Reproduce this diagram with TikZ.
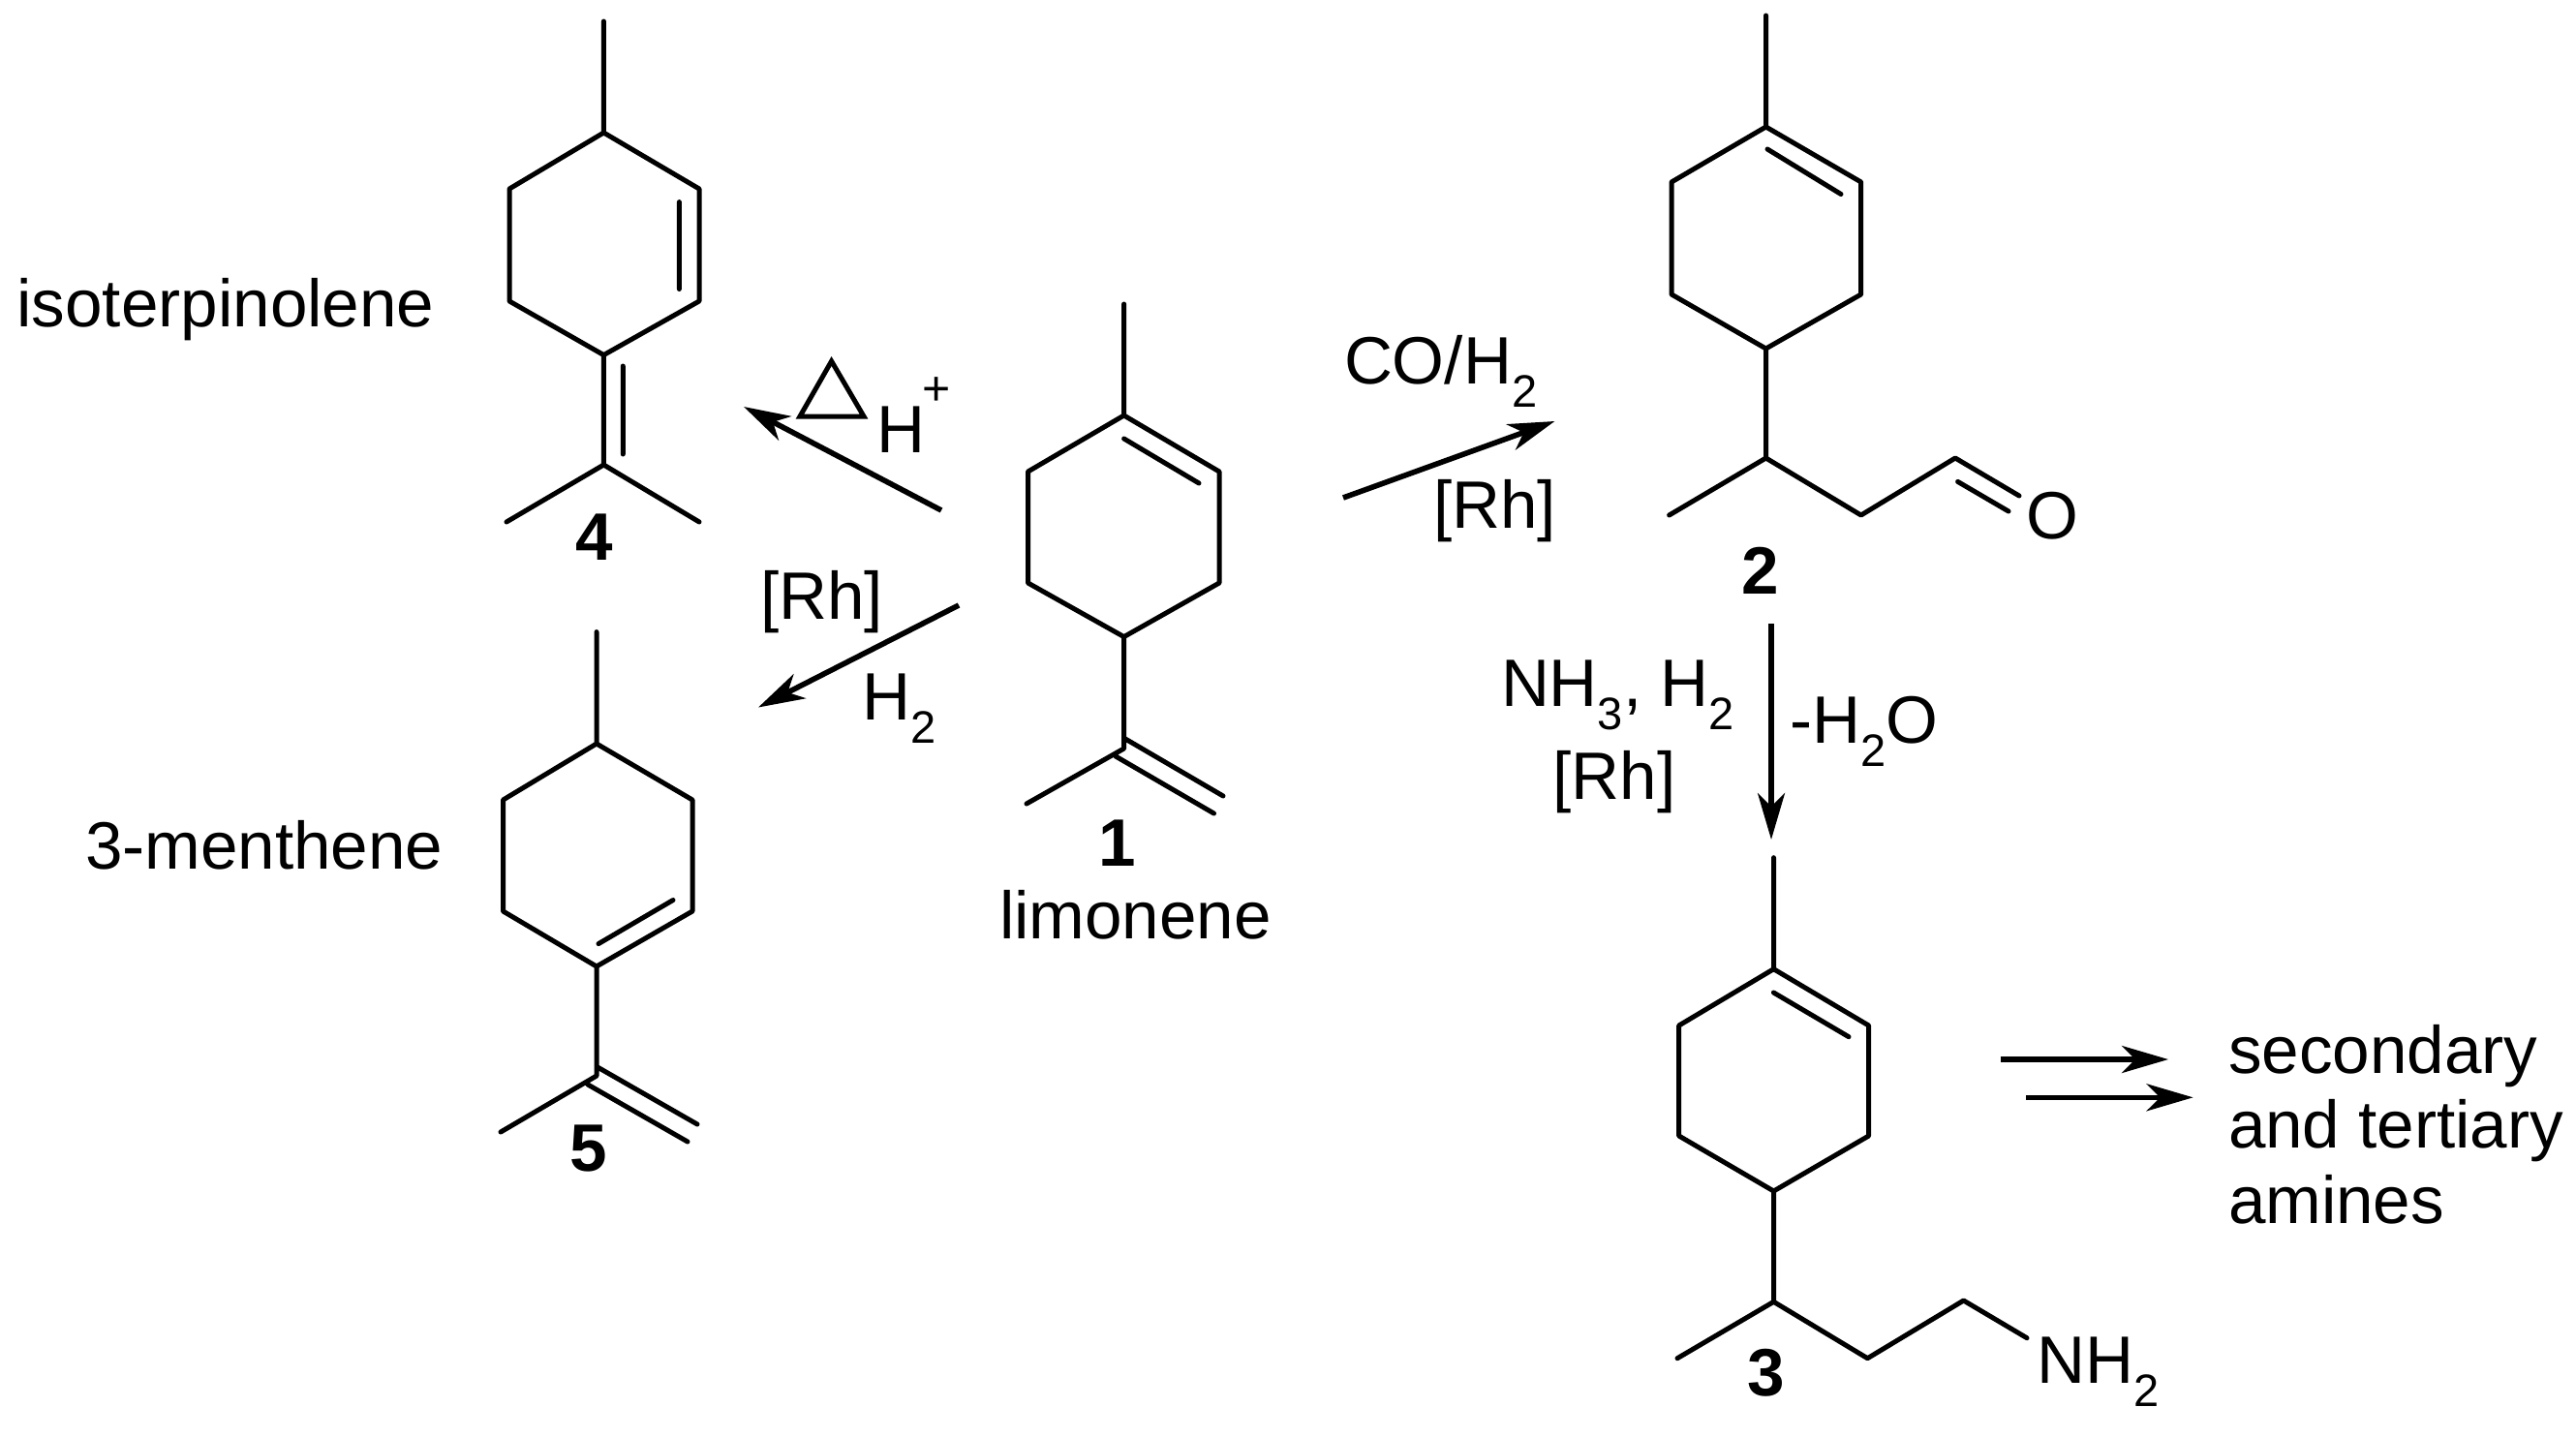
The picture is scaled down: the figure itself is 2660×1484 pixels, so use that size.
\documentclass[tikz,border=0pt]{standalone}
\usepackage{fontspec}
\setmainfont{Liberation Sans}
\usetikzlibrary{arrows.meta}
\newcommand{\lowsub}[1]{\raisebox{-12pt}{\fontsize{23.5}{23.5}\selectfont #1}}
\tikzset{
  bond/.style={line width=2.5pt,line cap=round,line join=round},
  rxn/.style={line width=2.8pt,-{Stealth[length=24pt,width=14pt,inset=7pt]}},
  txt/.style={anchor=base west,inner sep=0pt,outer sep=0pt,font=\fontsize{34.6}{40}\selectfont},
  num/.style={anchor=base,inner sep=0pt,outer sep=0pt,font=\fontsize{34.6}{40}\selectfont\bfseries},
}
\begin{document}
\begin{tikzpicture}[x=0.5pt,y=-0.5pt]
\useasboundingbox (0,0) rectangle (2660,1484);
% ---------- molecule 4
\coordinate (a0) at (623.4,22); \coordinate (a1) at (623.4,137);
\coordinate (a2) at (722,195); \coordinate (a3) at (722,311);
\coordinate (a4) at (623.4,366.6); \coordinate (a5) at (526,311);
\coordinate (a6) at (526,195); \coordinate (a7) at (623.4,480);
\coordinate (a8) at (523,539); \coordinate (a9) at (722,539);
\coordinate (a10) at (701.4,208.6); \coordinate (a11) at (701.4,298.5);
\coordinate (a12) at (643.3,378); \coordinate (a13) at (643.3,469);
\draw[bond] (a1)--(a2)--(a3)--(a4)--(a5)--(a6)--cycle;
\draw[bond] (a0)--(a1) (a4)--(a7) (a8)--(a7)--(a9) (a10)--(a11) (a12)--(a13);
% ---------- molecule 1
\coordinate (b0) at (1160.6,314); \coordinate (b1) at (1160.6,429);
\coordinate (b2) at (1259,487); \coordinate (b3) at (1259,602);
\coordinate (b4) at (1160.6,657.6); \coordinate (b5) at (1061.5,602);
\coordinate (b6) at (1061.5,487); \coordinate (b7) at (1160.6,773);
\coordinate (b8) at (1060,830);
\coordinate (b9) at (1162,763); \coordinate (b10) at (1263,822);
\coordinate (b11) at (1152,781); \coordinate (b12) at (1253.5,840);
\coordinate (b13) at (1160.6,453); \coordinate (b14) at (1238,499);
\draw[bond] (b1)--(b2)--(b3)--(b4)--(b5)--(b6)--cycle;
\draw[bond] (b0)--(b1) (b4)--(b7)--(b8) (b9)--(b10) (b11)--(b12) (b13)--(b14);
% ---------- molecule 5
\coordinate (c0) at (616,652.6); \coordinate (c1) at (616,768);
\coordinate (c2) at (715,826); \coordinate (c3) at (715,941);
\coordinate (c4) at (616,998); \coordinate (c5) at (519.5,941);
\coordinate (c6) at (519.5,826); \coordinate (c7) at (616,1111);
\coordinate (c8) at (517,1169);
\coordinate (c9) at (617,1102); \coordinate (c10) at (720,1161);
\coordinate (c11) at (607,1120); \coordinate (c12) at (710,1179);
\coordinate (c13) at (618,974.6); \coordinate (c14) at (695,929.5);
\draw[bond] (c1)--(c2)--(c3)--(c4)--(c5)--(c6)--cycle;
\draw[bond] (c0)--(c1) (c4)--(c7)--(c8) (c9)--(c10) (c11)--(c12) (c13)--(c14);
% ---------- molecule 2
\coordinate (d0) at (1823.5,16); \coordinate (d1) at (1823.5,131);
\coordinate (d2) at (1921.7,188); \coordinate (d3) at (1921.7,304);
\coordinate (d4) at (1823.5,360); \coordinate (d5) at (1726,304);
\coordinate (d6) at (1726,188); \coordinate (d7) at (1823.5,473);
\coordinate (d8) at (1723.6,532); \coordinate (d9) at (1921.7,532);
\coordinate (d10) at (2019,473); \coordinate (d11) at (2085,512);
\coordinate (d12) at (2021.6,497.4); \coordinate (d13) at (2074,528);
\coordinate (d14) at (1825,154); \coordinate (d15) at (1901,200.5);
\draw[bond] (d1)--(d2)--(d3)--(d4)--(d5)--(d6)--cycle;
\draw[bond] (d0)--(d1) (d4)--(d7)--(d8) (d7)--(d9)--(d10)--(d11) (d12)--(d13) (d14)--(d15);
% ---------- molecule 3
\coordinate (e0) at (1831.5,885.7); \coordinate (e1) at (1831.5,1000.7);
\coordinate (e2) at (1929.6,1059); \coordinate (e3) at (1929.6,1173);
\coordinate (e4) at (1831.5,1230); \coordinate (e5) at (1733.7,1173);
\coordinate (e6) at (1733.7,1059); \coordinate (e7) at (1831.5,1344.3);
\coordinate (e8) at (1732,1402.7); \coordinate (e9) at (1928.4,1402.7);
\coordinate (e10) at (2027.6,1343); \coordinate (e11) at (2093,1381.7);
\coordinate (e12) at (1831.4,1025); \coordinate (e13) at (1909,1070.7);
\draw[bond] (e1)--(e2)--(e3)--(e4)--(e5)--(e6)--cycle;
\draw[bond] (e0)--(e1) (e4)--(e7)--(e8) (e7)--(e9)--(e10)--(e11) (e12)--(e13);
% ---------- reaction arrows
\coordinate (r1s) at (972,527);   \coordinate (r1e) at (768,420);
\coordinate (r2s) at (990,625);   \coordinate (r2e) at (783,730.5);
\coordinate (r3s) at (1387,514);  \coordinate (r3e) at (1605.4,435);
\coordinate (r4s) at (1829,644);  \coordinate (r4e) at (1829,867);
\coordinate (r5s) at (2065.6,1094); \coordinate (r5e) at (2239,1094);
\coordinate (r6s) at (2092,1133.3); \coordinate (r6e) at (2264.6,1133.3);
\draw[rxn] (r1s)--(r1e);
\draw[rxn] (r2s)--(r2e);
\draw[rxn] (r3s)--(r3e);
\draw[rxn] (r4s)--(r4e);
\draw[rxn] (r5s)--(r5e);
\draw[rxn] (r6s)--(r6e);
% ---------- heat triangle
\coordinate (t1) at (858.6,373); \coordinate (t2) at (892,430); \coordinate (t3) at (826,430);
\draw[bond,line join=miter] (t1)--(t2)--(t3)--cycle;
% ---------- labels
\node[txt] (iso) at (17.5,337.6) {isoterpinolene};
\node[txt] (men) at (88,897) {3-menthene};
\node[txt] (lim) at (1032,969) {limonene};
\node[txt] (hplus) at (905.5,467) {H};
\node[anchor=center,inner sep=0pt,font=\fontsize{25}{25}\selectfont] (plus) at (967,404) {+};
\node[txt] (coh) at (1388,396) {CO/H\lowsub{2}};
\node[txt] (rh1) at (1480,545) {[Rh]};
\node[txt] (rh2) at (785,639) {[Rh]};
\node[txt] (h2a) at (890.5,743.5) {H\lowsub{2}};
\node[txt] (nh3) at (1550,729) {NH\lowsub{3}, H\lowsub{2}};
\node[txt] (rh3) at (1603.5,825.7) {[Rh]};
\node[txt] (wat) at (1848,767) {-H\lowsub{2}O};
\node[txt] (oxy) at (2092,556) {O};
\node[txt] (nh2) at (2103.5,1428) {NH\lowsub{2}};
\node[txt] (sa) at (2301,1108) {secondary};
\node[txt] (sb) at (2301,1185.7) {and tertiary};
\node[txt] (sc) at (2301,1263) {amines};
\node[num] (n1) at (1154,894.6) {1};
\node[num] (n2) at (1818,613) {2};
\node[num] (n3) at (1824,1441.7) {3};
\node[num] (n4) at (614,578) {4};
\node[num] (n5) at (608,1209.4) {5};
\end{tikzpicture}
\end{document}
